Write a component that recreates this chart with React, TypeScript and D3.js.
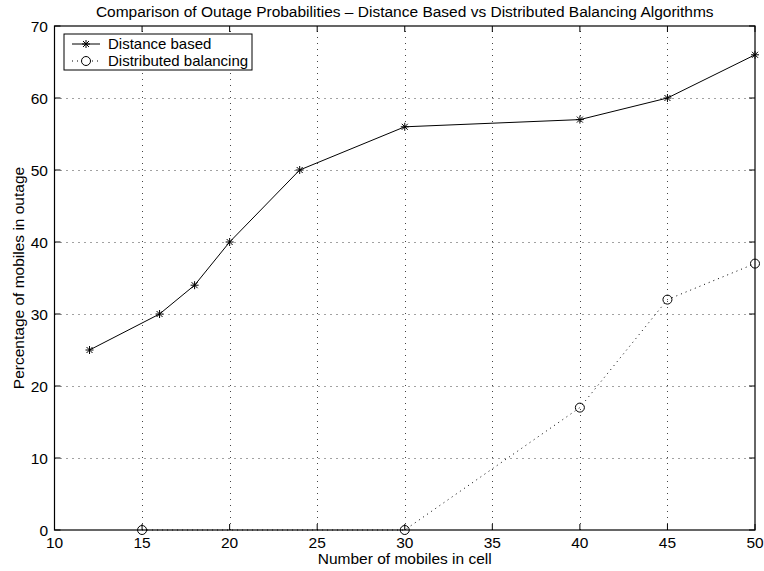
import React from "react";
import * as d3 from "d3";

// Series: outage percentage vs number of mobiles in the cell
const distanceX = [12, 16, 18, 20, 24, 30, 40, 45, 50];
const distanceY = [25, 30, 34, 40, 50, 56, 57, 60, 66];
const balancingX = [15, 30, 40, 45, 50];
const balancingY = [0, 0, 17, 32, 37];

const xTicks = [10, 15, 20, 25, 30, 35, 40, 45, 50];
const yTicks = [0, 10, 20, 30, 40, 50, 60, 70];

const titleText =
  "Comparison of Outage Probabilities \u2013 Distance Based vs Distributed Balancing Algorithms";
const xLabel = "Number of mobiles in cell";
const yLabel = "Percentage of mobiles in outage";
const legendLabels = ["Distance based", "Distributed balancing"];

const W = 764;
const H = 571;
const left = 54.5;
const right = 755;
const top = 26;
const bottom = 530;
const font = "Liberation Sans, Arial, Helvetica, sans-serif";
const fs = 15.5;

function Asterisk({ x, y, r = 4 }: { x: number; y: number; r?: number }) {
  const d = r * 0.75;
  return (
    <g stroke="#000" strokeWidth={1}>
      <line x1={x - r} y1={y} x2={x + r} y2={y} />
      <line x1={x} y1={y - r} x2={x} y2={y + r} />
      <line x1={x - d} y1={y - d} x2={x + d} y2={y + d} />
      <line x1={x - d} y1={y + d} x2={x + d} y2={y - d} />
    </g>
  );
}

export default function App() {
  const x = d3.scaleLinear().domain([10, 50]).range([left, right]);
  const y = d3.scaleLinear().domain([0, 70]).range([bottom, top]);

  const line = d3
    .line<[number, number]>()
    .x((d) => x(d[0]))
    .y((d) => y(d[1]));

  const distPts: [number, number][] = distanceX.map((v, i) => [v, distanceY[i]]);
  const balPts: [number, number][] = balancingX.map((v, i) => [v, balancingY[i]]);

  const tickLen = 6;
  const gridColor = "#444";

  return (
    <svg
      width={W}
      height={H}
      style={{ position: "absolute", left: 0, top: 0, background: "#fff" }}
      fontFamily={font}
    >
      <rect x={0} y={0} width={W} height={H} fill="#fff" />

      {/* dotted grid */}
      <g stroke={gridColor} strokeWidth={1} strokeDasharray="1 5">
        {xTicks.slice(1, -1).map((t) => (
          <line key={"gx" + t} x1={Math.round(x(t)) + 0.5} x2={Math.round(x(t)) + 0.5} y1={bottom} y2={top} />
        ))}
        {yTicks.slice(1, -1).map((t) => (
          <line key={"gy" + t} x1={left} x2={right} y1={Math.round(y(t)) + 0.5} y2={Math.round(y(t)) + 0.5} />
        ))}
      </g>

      {/* axes box and inward ticks */}
      <rect x={left} y={top} width={right - left} height={bottom - top} fill="none" stroke="#000" strokeWidth={1.2} />
      <g stroke="#000" strokeWidth={1}>
        {xTicks.map((t) => (
          <g key={"tx" + t}>
            <line x1={x(t)} x2={x(t)} y1={bottom} y2={bottom - tickLen} />
            <line x1={x(t)} x2={x(t)} y1={top} y2={top + tickLen} />
          </g>
        ))}
        {yTicks.map((t) => (
          <g key={"ty" + t}>
            <line x1={left} x2={left + tickLen} y1={y(t)} y2={y(t)} />
            <line x1={right} x2={right - tickLen} y1={y(t)} y2={y(t)} />
          </g>
        ))}
      </g>

      {/* tick labels */}
      <g fontSize={fs} fill="#000">
        {xTicks.map((t) => (
          <text key={"lx" + t} x={x(t)} y={548} textAnchor="middle">
            {t}
          </text>
        ))}
        {yTicks.map((t) => (
          <text key={"ly" + t} x={48} y={y(t) + 6} textAnchor="end">
            {t}
          </text>
        ))}
      </g>

      {/* series */}
      <path d={line(distPts) || ""} fill="none" stroke="#000" strokeWidth={1} />
      {distPts.map((p, i) => (
        <Asterisk key={"a" + i} x={x(p[0])} y={y(p[1])} />
      ))}
      <path d={line(balPts) || ""} fill="none" stroke="#000" strokeWidth={1} strokeDasharray="1 4" />
      {balPts.map((p, i) => (
        <circle key={"c" + i} cx={x(p[0])} cy={y(p[1])} r={4.5} fill="none" stroke="#000" strokeWidth={1} />
      ))}

      {/* legend */}
      <rect x={64} y={34} width={188} height={36} fill="#fff" stroke="#000" strokeWidth={1} />
      <line x1={72} x2={100} y1={44} y2={44} stroke="#000" strokeWidth={1} />
      <Asterisk x={86} y={44} />
      <line x1={72} x2={100} y1={61} y2={61} stroke="#000" strokeWidth={1} strokeDasharray="1 4" />
      <circle cx={86} cy={61} r={4.5} fill="#fff" stroke="#000" strokeWidth={1} />
      <g fontSize={15} fill="#000">
        <text x={108} y={49}>{legendLabels[0]}</text>
        <text x={108} y={66}>{legendLabels[1]}</text>
      </g>

      {/* titles */}
      <text x={(left + right) / 2} y={17} textAnchor="middle" fontSize={fs}>
        {titleText}
      </text>
      <text x={(left + right) / 2} y={564} textAnchor="middle" fontSize={fs}>
        {xLabel}
      </text>
      <text
        transform={`translate(24, ${(top + bottom) / 2}) rotate(-90)`}
        textAnchor="middle"
        fontSize={fs}
      >
        {yLabel}
      </text>
    </svg>
  );
}
